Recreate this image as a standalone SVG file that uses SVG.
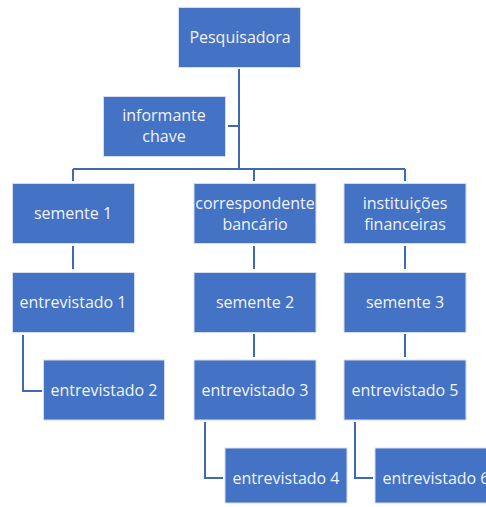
<svg xmlns="http://www.w3.org/2000/svg" width="486" height="507" viewBox="0 0 486 507">
<style>
.box{fill:#4472C4;stroke:#D4DDF0;stroke-width:1}
.t{font-family:"Open Sans","Liberation Sans",sans-serif;font-size:16px;fill:#F2F4FA;text-anchor:middle;dominant-baseline:central}
.c{fill:none;stroke:#4169B3;stroke-width:2}
</style>
<rect width="486" height="507" fill="#fff"/>
<g id="connectors">
<path class="c" d="M239,69V169M228,126H239M73,169H405M73,169V181M254,169V181M405,169V181"/>
<path class="c" d="M73,246V269M254,246V269M405,246V269"/>
<path class="c" d="M23,335V391H42M254,334V357M405,334V357"/>
<path class="c" d="M205,422V478H223M355,422V478H373"/>
</g>
<g id="pesquisadora"><rect class="box" x="178.5" y="7.5" width="122" height="60"/><text class="t" x="240" y="37">Pesquisadora</text></g>
<g id="informante"><rect class="box" x="103.5" y="96.5" width="122" height="60"/><text class="t" x="164" y="115">informante</text><text class="t" x="164" y="136">chave</text></g>
<g id="semente1"><rect class="box" x="12.5" y="183.5" width="122" height="60"/><text class="t" x="73" y="213">semente 1</text></g>
<g id="correspondente"><rect class="box" x="194" y="183.5" width="122" height="60"/><text class="t" x="255" y="203">correspondente</text><text class="t" x="255" y="224">bancário</text></g>
<g id="instituicoes"><rect class="box" x="344" y="183.5" width="122" height="60"/><text class="t" x="405" y="203">instituições</text><text class="t" x="405" y="224">financeiras</text></g>
<g id="entrevistado1"><rect class="box" x="12.5" y="272.5" width="122" height="60"/><text class="t" x="73" y="302">entrevistado 1</text></g>
<g id="semente2"><rect class="box" x="194" y="272.5" width="122" height="60"/><text class="t" x="255" y="302">semente 2</text></g>
<g id="semente3"><rect class="box" x="344" y="272.5" width="122" height="60"/><text class="t" x="405" y="302">semente 3</text></g>
<g id="entrevistado2"><rect class="box" x="43.5" y="360" width="121" height="60"/><text class="t" x="104" y="390">entrevistado 2</text></g>
<g id="entrevistado3"><rect class="box" x="194" y="360" width="122" height="60"/><text class="t" x="255" y="390">entrevistado 3</text></g>
<g id="entrevistado5"><rect class="box" x="344" y="360" width="122" height="60"/><text class="t" x="405" y="390">entrevistado 5</text></g>
<g id="entrevistado4"><rect class="box" x="225" y="448" width="122" height="55"/><text class="t" x="286" y="478">entrevistado 4</text></g>
<g id="entrevistado6"><rect class="box" x="375" y="448" width="122" height="55"/><text class="t" x="436" y="478">entrevistado 6</text></g>
</svg>
